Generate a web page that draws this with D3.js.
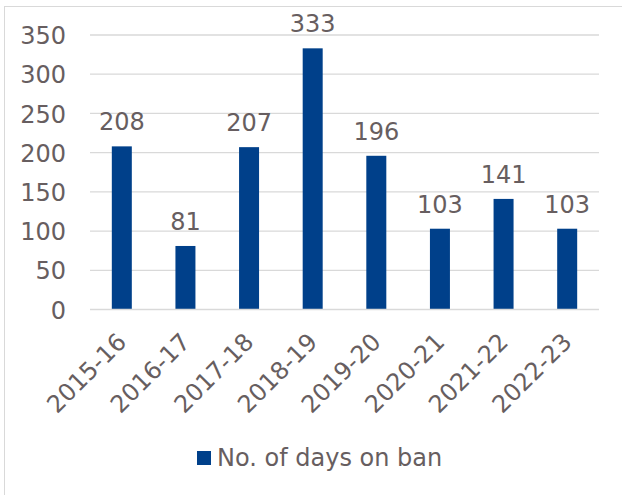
<!DOCTYPE html>
<html><head><meta charset="utf-8">
<script src="https://cdn.jsdelivr.net/npm/d3@7/dist/d3.min.js"></script>
<style>
body{margin:0;background:#fff;}
svg{display:block;font-family:"DejaVu Sans",Verdana,sans-serif;}
</style></head>
<body>
<script>
const categories = ["2015-16","2016-17","2017-18","2018-19","2019-20","2020-21","2021-22","2022-23"];
const values = [208,81,207,333,196,103,141,103];
const yTicks = [0,50,100,150,200,250,300,350];
const seriesName = "No. of days on ban";

const W = 622, H = 495;
const mLeft = 90, mRight = 599, mTop = 35, mBottom = 309.5;
const textColor = "#675e60", barColor = "#00408a";
const fs = "24px";

const svg = d3.select("body").append("svg").attr("width", W).attr("height", H);
svg.append("rect").attr("x",4.5).attr("y",6.5).attr("width",700).attr("height",600)
  .attr("fill","none").attr("stroke","#d9d9d9").attr("stroke-width",1);

const x = d3.scaleBand().domain(categories).range([mLeft, mRight]).paddingInner(0).paddingOuter(0);
const y = d3.scaleLinear().domain([0, 350]).range([mBottom, mTop]);

// gridlines
svg.append("g").selectAll("line").data(yTicks.filter(d=>d>0)).join("line")
  .attr("x1", mLeft).attr("x2", mRight)
  .attr("y1", d=>y(d)).attr("y2", d=>y(d))
  .attr("stroke","#d9d9d9").attr("stroke-width",1.3);

// y axis labels
const yAxis = d3.axisLeft(y).tickValues(yTicks).tickSize(0).tickPadding(0);
const gy = svg.append("g").attr("transform", `translate(${66},0)`).call(yAxis);
gy.select(".domain").remove();
gy.selectAll("text").attr("fill", textColor).style("font-size",fs)
  .attr("font-family","DejaVu Sans, Verdana, sans-serif").attr("dy","0.36em");

// bars
const bw = 20;
svg.append("g").selectAll("rect").data(values).join("rect")
  .attr("x", (d,i)=>x(categories[i]) + x.bandwidth()/2 - bw/2)
  .attr("width", bw)
  .attr("y", d=>y(d)).attr("height", d=>y(0)-y(d))
  .attr("fill", barColor);

// value labels
svg.append("g").selectAll("text").data(values).join("text")
  .attr("x", (d,i)=>x(categories[i]) + x.bandwidth()/2)
  .attr("y", d=>y(d) - 16)
  .attr("text-anchor","middle").attr("fill", textColor).style("font-size",fs)
  .text(d=>d);

// x axis baseline
svg.append("line").attr("x1", mLeft).attr("x2", mRight).attr("y1", mBottom).attr("y2", mBottom)
  .attr("stroke","#d9d9d9").attr("stroke-width",1.3);

// x axis labels
const xAxis = d3.axisBottom(x).tickSize(0).tickPadding(0);
const gx = svg.append("g").attr("transform", `translate(0,${mBottom})`).call(xAxis);
gx.select(".domain").remove();
gx.selectAll("text")
  .attr("fill", textColor).style("font-size",fs)
  .attr("font-family","DejaVu Sans, Verdana, sans-serif")
  .attr("text-anchor","end")
  .attr("dy", null).attr("y", 0)
  .attr("transform","translate(6,34) rotate(-45)");

// legend
const lg = svg.append("g");
lg.append("rect").attr("x",197).attr("y",451).attr("width",14).attr("height",14).attr("fill",barColor);
lg.append("text").attr("x",217).attr("y",466).attr("fill",textColor).style("font-size",fs).text(seriesName);
</script>
</body></html>
